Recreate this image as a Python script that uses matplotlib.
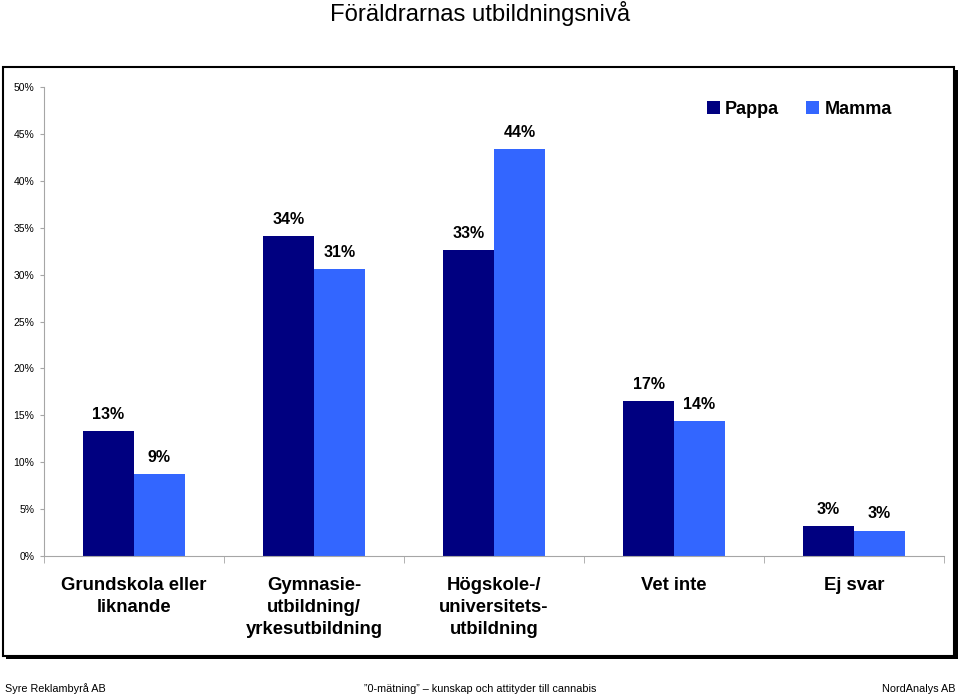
import numpy as np
import matplotlib
matplotlib.use('Agg')
import matplotlib.pyplot as plt
from matplotlib.patches import Rectangle

plt.rcParams['font.family'] = ['Liberation Sans', 'DejaVu Sans']

categories = ['Grundskola eller\nliknande',
              'Gymnasie-\nutbildning/\nyrkesutbildning',
              'Högskole-/\nuniversitets-\nutbildning',
              'Vet inte',
              'Ej svar']
pappa = [13.3, 34.1, 32.6, 16.5, 3.2]
mamma = [8.7, 30.6, 43.4, 14.4, 2.7]
pappa_labels = ['13%', '34%', '33%', '17%', '3%']
mamma_labels = ['9%', '31%', '44%', '14%', '3%']
yticks = [0, 5, 10, 15, 20, 25, 30, 35, 40, 45, 50]

c_pappa = '#000080'
c_mamma = '#3366FF'
grey = '#A6A6A6'

W, H = 960, 697
fig = plt.figure(figsize=(9.6, 6.97), dpi=100)

# frame with shadow
fig.patches.append(Rectangle((6 / W, 1 - 659 / H), 952 / W, 589 / H,
                             transform=fig.transFigure, facecolor='black',
                             edgecolor='none', zorder=-2))
fig.patches.append(Rectangle((3 / W, 1 - 656 / H), 951 / W, 589 / H,
                             transform=fig.transFigure, facecolor='white',
                             edgecolor='black', linewidth=1.5, zorder=-1))

ax = fig.add_axes([44 / W, 1 - 556 / H, 900 / W, 469 / H])
ax.set_zorder(2)
ax.set_facecolor('none')

x = np.arange(len(categories))
w = 0.283
ax.bar(x - w / 2, pappa, w, color=c_pappa, label='Pappa')
ax.bar(x + w / 2, mamma, w, color=c_mamma, label='Mamma')

for xi, v, t in zip(x, pappa, pappa_labels):
    ax.text(xi - w / 2, v + 1.0, t, ha='center', va='bottom',
            fontsize=11.5, fontweight='bold')
for xi, v, t in zip(x, mamma, mamma_labels):
    ax.text(xi + w / 2, v + 1.0, t, ha='center', va='bottom',
            fontsize=11.5, fontweight='bold')

ax.set_xlim(-0.5, len(categories) - 0.5)
ax.set_ylim(0, 50)
ax.set_yticks(yticks)
ax.set_yticklabels([f'{t}%' for t in yticks], fontsize=7.5)
ax.set_xticks(x)
ax.set_xticklabels(categories, fontsize=13.3, fontweight='bold',
                   linespacing=1.4)
ax.set_xticks(np.arange(len(categories) + 1) - 0.5, minor=True)
ax.tick_params(axis='x', which='major', length=0, pad=15)
ax.tick_params(axis='x', which='minor', length=5, color=grey, direction='out')
ax.tick_params(axis='y', length=3, color=grey, pad=4)

for s in ['top', 'right']:
    ax.spines[s].set_visible(False)
for s in ['left', 'bottom']:
    ax.spines[s].set_color(grey)
    ax.spines[s].set_linewidth(0.8)

ax.legend(loc='upper right', bbox_to_anchor=(0.96, 1.005), ncol=2, frameon=False,
          prop={'size': 13, 'weight': 'bold'}, handlelength=0.7,
          handleheight=0.7, handletextpad=0.3, columnspacing=1.5)

fig.text(0.5, 1 - 13 / H, 'Föräldrarnas utbildningsnivå', ha='center',
         va='center', fontsize=17.2)

fs = 7.8
fig.text(5 / W, 1 - 689 / H, 'Syre Reklambyrå AB', ha='left', va='center',
         fontsize=fs)
fig.text(480 / W, 1 - 689 / H,
         '”0-mätning” – kunskap och attityder till cannabis',
         ha='center', va='center', fontsize=fs)
fig.text(955 / W, 1 - 689 / H, 'NordAnalys AB', ha='right', va='center',
         fontsize=fs)

fig.savefig('out.png', dpi=100)
